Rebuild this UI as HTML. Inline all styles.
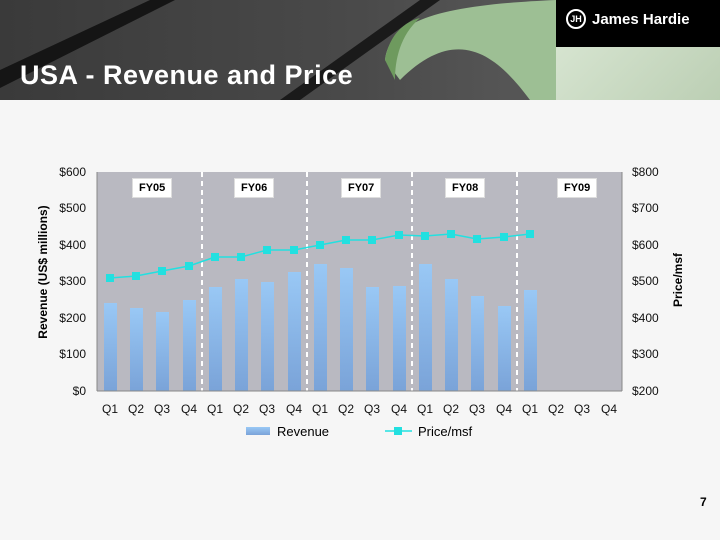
<!DOCTYPE html>
<html><head><style>
body{margin:0;width:720px;height:540px;background:#f6f6f6;position:relative;overflow:hidden;font-family:"Liberation Sans",sans-serif}
#hdr{position:absolute;left:0;top:0;width:720px;height:100px;background:linear-gradient(90deg,#3a3a3a,#4a4a4a 50%,#555 70%)}
#title{position:absolute;left:20px;top:60px;color:#fff;font-size:27px;font-weight:bold;letter-spacing:0.5px}
#logo{position:absolute;left:556px;top:0;width:164px;height:47px;background:#000;color:#fff;font-weight:bold;font-size:15px}
#lg2{position:absolute;left:556px;top:47px;width:164px;height:53px;background:linear-gradient(135deg,#d6e4d0,#bccfb4)}
.fy{position:absolute;background:#fff;font-size:11px;font-weight:bold;padding:3px 6px;border:1px solid #ddd}
</style></head><body>
<div id="hdr">
<svg width="720" height="100" style="position:absolute;left:0;top:0">
<polygon points="0,88 0,70 150,0 175,0" fill="#151515"/>
<polygon points="280,100 300,100 440,0 420,0" fill="#1a1a1a"/>
<path d="M385,60 C390,20 440,5 556,0 L556,100 L530,100 C500,60 460,20 400,80 Z" fill="#9dbf94"/>
<path d="M385,60 C390,30 410,20 420,18 C400,35 395,60 395,80 Z" fill="#6e9a5e"/>
</svg>
</div>
<div id="title">USA - Revenue and Price</div>
<div id="logo"><span style="position:absolute;left:10px;top:9px;width:16px;height:16px;border:2px solid #fff;border-radius:50%;font-size:9px;text-align:center;line-height:16px">JH</span><span style="position:absolute;left:36px;top:11px">James Hardie</span></div>
<div id="lg2"></div>
<svg width="720" height="540" style="position:absolute;left:0;top:0" font-family="Liberation Sans,sans-serif">
<defs><linearGradient id="b" x1="0" y1="0" x2="0" y2="1"><stop offset="0" stop-color="#99c8f5"/><stop offset="1" stop-color="#7aa3d8"/></linearGradient></defs>
<rect x="97" y="172" width="525" height="219" fill="#b9b9c1"/>
<g stroke="#fff" stroke-width="2" stroke-dasharray="5,4">
<line x1="202" y1="172" x2="202" y2="391"/><line x1="307" y1="172" x2="307" y2="391"/><line x1="412" y1="172" x2="412" y2="391"/><line x1="517" y1="172" x2="517" y2="391"/></g>
<g fill="url(#b)">
<rect x="104" y="303" width="13" height="88"/><rect x="130" y="308" width="13" height="83"/><rect x="156" y="312" width="13" height="79"/><rect x="183" y="300" width="13" height="91"/>
<rect x="209" y="287" width="13" height="104"/><rect x="235" y="279" width="13" height="112"/><rect x="261" y="282" width="13" height="109"/><rect x="288" y="272" width="13" height="119"/>
<rect x="314" y="264" width="13" height="127"/><rect x="340" y="268" width="13" height="123"/><rect x="366" y="287" width="13" height="104"/><rect x="393" y="286" width="13" height="105"/>
<rect x="419" y="264" width="13" height="127"/><rect x="445" y="279" width="13" height="112"/><rect x="471" y="296" width="13" height="95"/><rect x="498" y="306" width="13" height="85"/>
<rect x="524" y="290" width="13" height="101"/></g>
<polyline fill="none" stroke="#22e0e0" stroke-width="1.5" points="110,278 136,276 162,271 189,266 215,257 241,257 267,250 294,250 320,245 346,240 372,240 399,235 425,236 451,234 477,239 504,237 530,234"/>
<g fill="#22e0e0"><rect x="106" y="274" width="8" height="8"/><rect x="132" y="272" width="8" height="8"/><rect x="158" y="267" width="8" height="8"/><rect x="185" y="262" width="8" height="8"/><rect x="211" y="253" width="8" height="8"/><rect x="237" y="253" width="8" height="8"/><rect x="263" y="246" width="8" height="8"/><rect x="290" y="246" width="8" height="8"/><rect x="316" y="241" width="8" height="8"/><rect x="342" y="236" width="8" height="8"/><rect x="368" y="236" width="8" height="8"/><rect x="395" y="231" width="8" height="8"/><rect x="421" y="232" width="8" height="8"/><rect x="447" y="230" width="8" height="8"/><rect x="473" y="235" width="8" height="8"/><rect x="500" y="233" width="8" height="8"/><rect x="526" y="230" width="8" height="8"/></g>
<line x1="97" y1="172" x2="97" y2="391" stroke="#888"/><line x1="97" y1="391" x2="622" y2="391" stroke="#888"/><line x1="622" y1="172" x2="622" y2="391" stroke="#888"/>
<g font-size="12" fill="#111" text-anchor="end">
<text x="86" y="176">$600</text><text x="86" y="212">$500</text><text x="86" y="249">$400</text><text x="86" y="285">$300</text><text x="86" y="322">$200</text><text x="86" y="358">$100</text><text x="86" y="395">$0</text></g>
<g font-size="12" fill="#111">
<text x="632" y="176">$800</text><text x="632" y="212">$700</text><text x="632" y="249">$600</text><text x="632" y="285">$500</text><text x="632" y="322">$400</text><text x="632" y="358">$300</text><text x="632" y="395">$200</text></g>
<g font-size="12" fill="#111" text-anchor="middle">
<text x="110" y="413">Q1</text><text x="136" y="413">Q2</text><text x="162" y="413">Q3</text><text x="189" y="413">Q4</text><text x="215" y="413">Q1</text><text x="241" y="413">Q2</text><text x="267" y="413">Q3</text><text x="294" y="413">Q4</text><text x="320" y="413">Q1</text><text x="346" y="413">Q2</text><text x="372" y="413">Q3</text><text x="399" y="413">Q4</text><text x="425" y="413">Q1</text><text x="451" y="413">Q2</text><text x="477" y="413">Q3</text><text x="504" y="413">Q4</text><text x="530" y="413">Q1</text><text x="556" y="413">Q2</text><text x="582" y="413">Q3</text><text x="609" y="413">Q4</text></g>
<text transform="translate(47,272) rotate(-90)" font-size="12" font-weight="bold" text-anchor="middle">Revenue (US$ millions)</text>
<text transform="translate(682,280) rotate(-90)" font-size="12" font-weight="bold" text-anchor="middle">Price/msf</text>
<rect x="246" y="427" width="24" height="8" fill="url(#b)"/><text x="277" y="436" font-size="13">Revenue</text>
<line x1="385" y1="431" x2="412" y2="431" stroke="#22e0e0" stroke-width="1.5"/><rect x="394" y="427" width="8" height="8" fill="#22e0e0"/><text x="418" y="436" font-size="13">Price/msf</text>
<text x="700" y="506" font-size="12" font-weight="bold">7</text>
</svg>
<div class="fy" style="left:132px;top:178px">FY05</div>
<div class="fy" style="left:234px;top:178px">FY06</div>
<div class="fy" style="left:341px;top:178px">FY07</div>
<div class="fy" style="left:445px;top:178px">FY08</div>
<div class="fy" style="left:557px;top:178px">FY09</div>
</body></html>
